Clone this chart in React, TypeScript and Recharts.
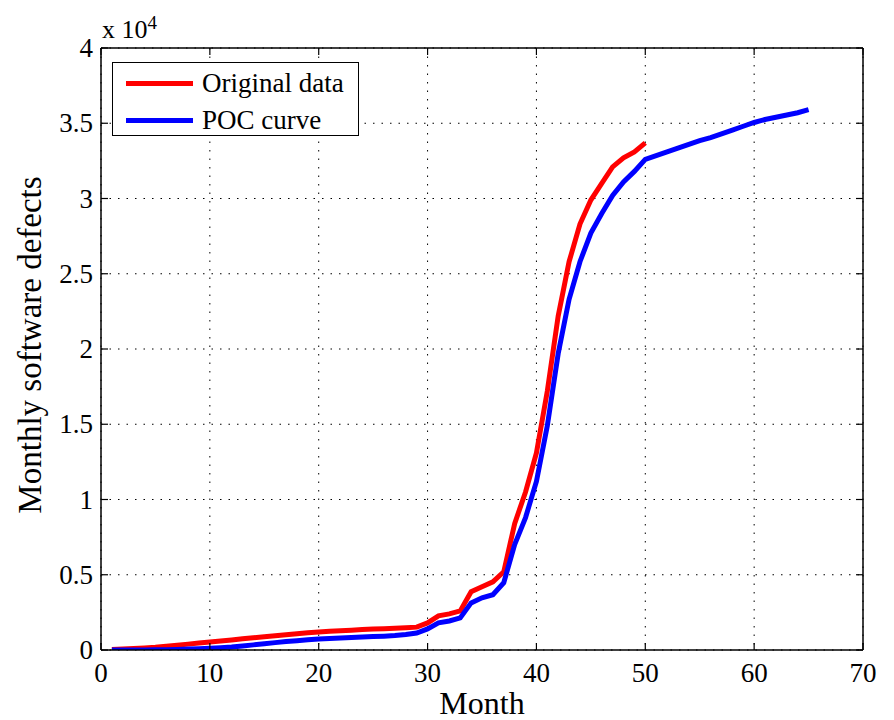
import { CartesianGrid, Legend, Line, LineChart, ReferenceLine, XAxis, YAxis } from "recharts";

const FONT = '"Liberation Serif", "Times New Roman", serif';

const months = [
  1, 2, 3, 4, 5, 6, 7, 8, 9, 10, 11, 12, 13, 14, 15, 16, 17, 18, 19, 20, 21,
  22, 23, 24, 25, 26, 27, 28, 29, 30, 31, 32, 33, 34, 35, 36, 37, 38, 39, 40,
  41, 42, 43, 44, 45, 46, 47, 48, 49, 50, 51, 52, 53, 54, 55, 56, 57, 58, 59,
  60, 61, 62, 63, 64, 65,
];

// observed monthly defects (months 1-50)
const originalData = [
  30, 60, 100, 140, 180, 250, 320, 390, 460, 530, 600, 670, 740, 810, 880,
  950, 1020, 1080, 1140, 1200, 1240, 1280, 1320, 1360, 1390, 1420, 1450, 1480,
  1520, 1800, 2270, 2400, 2600, 3870, 4200, 4530, 5200, 8400, 10500, 13100,
  17200, 22200, 25800, 28300, 29900, 31000, 32100, 32700, 33100, 33700,
];

// fitted POC curve (months 1-65)
const pocCurve = [
  0, 0, 0, 0, 10, 20, 40, 60, 80, 110, 150, 200, 270, 340, 420, 490, 560, 620,
  680, 730, 770, 800, 830, 860, 890, 920, 960, 1030, 1130, 1400, 1800, 1930,
  2130, 3130, 3470, 3670, 4470, 7000, 8800, 11200, 14900, 19700, 23300, 25800,
  27700, 29000, 30200, 31100, 31800, 32600, 32850, 33100, 33350, 33600, 33850,
  34050, 34300, 34550, 34800, 35050, 35250, 35400, 35550, 35700, 35900,
];

const xTicks = [0, 10, 20, 30, 40, 50, 60, 70];
const yTicks = [0, 5000, 10000, 15000, 20000, 25000, 30000, 35000, 40000];

const rows = months.map((m, i) => ({
  month: m,
  original: originalData[i],
  poc: pocCurve[i],
}));

// plot box size, used to mirror the inward ticks on the top / right edges
const PLOT_W = 762;
const PLOT_H = 602;

function BottomTick({ x, y, payload }: any) {
  return (
    <g>
      <line x1={x} x2={x} y1={y} y2={y - 7} stroke="#000" strokeWidth={1.2} />
      <line x1={x} x2={x} y1={y - PLOT_H} y2={y - PLOT_H + 7} stroke="#000" strokeWidth={1.2} />
      <text x={x} y={y + 32} textAnchor="middle" fontFamily={FONT} fontSize={27} fill="#000">
        {payload.value}
      </text>
    </g>
  );
}

function LeftTick({ x, y, payload }: any) {
  return (
    <g>
      <line x1={x} x2={x + 7} y1={y} y2={y} stroke="#000" strokeWidth={1.2} />
      <line x1={x + PLOT_W} x2={x + PLOT_W - 7} y1={y} y2={y} stroke="#000" strokeWidth={1.2} />
      <text x={x - 8} y={y + 9} textAnchor="end" fontFamily={FONT} fontSize={27} fill="#000">
        {String(payload.value / 10000)}
      </text>
    </g>
  );
}

function YTitle() {
  return (
    <text
      x={33}
      y={337}
      transform="rotate(-90, 33, 337)"
      textAnchor="middle"
      fontFamily={FONT}
      fontSize={33}
      fill="#000"
    >
      Monthly software defects
    </text>
  );
}

function XTitle() {
  return (
    <g>
      <text x={474} y={706} textAnchor="middle" fontFamily={FONT} fontSize={32} fill="#000">
        Month
      </text>
      <text x={94} y={30} fontFamily={FONT} fontSize={26} fill="#000">
        <tspan>x 10</tspan>
        <tspan dy={-9} fontSize={19}>4</tspan>
      </text>
    </g>
  );
}

function LegendBox() {
  const item = (color: string, label: string, top: number) => (
    <div style={{ position: "absolute", left: 0, top, height: 30, width: "100%" }}>
      <div style={{ position: "absolute", left: 13, top: 12, width: 67, height: 5, background: color }} />
      <span
        style={{
          position: "absolute",
          left: 89,
          top: -2,
          fontFamily: FONT,
          fontSize: 27,
          lineHeight: "32px",
          color: "#000",
          whiteSpace: "nowrap",
        }}
      >
        {label}
      </span>
    </div>
  );
  return (
    <div
      style={{
        position: "relative",
        width: 245,
        height: 72,
        border: "1.5px solid #000",
        background: "#fff",
      }}
    >
      {item("#ff0000", "Original data", 6)}
      {item("#0000ff", "POC curve", 43)}
    </div>
  );
}

export default function App() {
  return (
    <div style={{ position: "relative", width: 886, height: 712 }}>
      <LineChart
        width={886}
        height={712}
        data={rows}
        margin={{ top: 40, right: 31, left: 33, bottom: 40 }}
      >
        <CartesianGrid stroke="#000" strokeDasharray="1.5 7" strokeWidth={1} />
        <XAxis
          dataKey="month"
          type="number"
          domain={[0, 70]}
          ticks={xTicks}
          height={30}
          tickSize={0}
          tickMargin={0}
          tickLine={false}
          tick={<BottomTick />}
          axisLine={{ stroke: "#000", strokeWidth: 1.5 }}
          label={<XTitle />}
          allowDataOverflow
        />
        <YAxis
          type="number"
          domain={[0, 40000]}
          ticks={yTicks}
          width={60}
          tickSize={0}
          tickMargin={0}
          tickLine={false}
          tick={<LeftTick />}
          axisLine={{ stroke: "#000", strokeWidth: 1.5 }}
          label={<YTitle />}
          allowDataOverflow
        />
        <ReferenceLine y={40000} stroke="#000" strokeWidth={1.5} />
        <ReferenceLine x={70} stroke="#000" strokeWidth={1.5} />
        <Legend
          layout="horizontal"
          verticalAlign="middle"
          align="center"
          content={<LegendBox />}
          wrapperStyle={{ left: 104, top: 54, width: "auto" }}
        />
        <Line
          type="linear"
          dataKey="original"
          name="Original data"
          stroke="#ff0000"
          strokeWidth={5}
          dot={false}
          isAnimationActive={false}
        />
        <Line
          type="linear"
          dataKey="poc"
          name="POC curve"
          stroke="#0000ff"
          strokeWidth={5}
          dot={false}
          isAnimationActive={false}
        />
      </LineChart>
    </div>
  );
}
